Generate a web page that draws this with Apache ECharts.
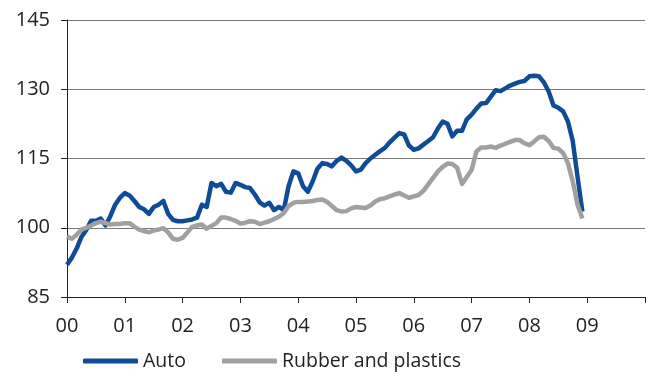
<!DOCTYPE html>
<html>
<head>
<meta charset="utf-8">
<script src="https://cdn.jsdelivr.net/npm/echarts@6/dist/echarts.min.js"></script>
<style>
  html, body { margin: 0; padding: 0; background: #fff; }
  #chart { width: 650px; height: 376px; }
</style>
</head>
<body>
<div id="chart"></div>
<script>
// monthly index, Jan 2000 .. Dec 2008
const auto = [
  92, 93.5, 95.5, 98, 99.5, 101.5, 101.5, 102, 100.5, 102.5, 105, 106.5,
  107.5, 107, 105.8, 104.5, 104, 103, 104.5, 105, 105.8, 103, 101.7, 101.4,
  101.4, 101.6, 101.8, 102.2, 105, 104.5, 109.7, 109, 109.5, 107.8, 107.6, 109.7,
  109.3, 108.8, 108.6, 107.2, 105.5, 104.8, 105.4, 103.8, 104.5, 103.8, 109, 112.2,
  111.8, 109, 107.8, 110, 112.8, 114, 113.8, 113.3, 114.5, 115.2, 114.5, 113.5,
  112.2, 112.6, 114, 115, 115.8, 116.6, 117.3, 118.5, 119.5, 120.5, 120.2, 117.8,
  116.9, 117.2, 118, 118.8, 119.6, 121.5, 123, 122.5, 119.8, 121, 121, 123.5,
  124.5, 125.8, 126.9, 127, 128.4, 129.8, 129.6, 130.2, 130.8, 131.2, 131.6, 131.8,
  132.8, 132.9, 132.8, 131.5, 129.5, 126.5, 126, 125.2, 123, 118.8, 111, 103.5
];
const rubber = [
  98.1, 97.6, 98.5, 99.6, 100, 100.5, 101, 101.3, 101, 100.7, 100.8, 100.8,
  101, 101, 100.2, 99.6, 99.3, 99, 99.4, 99.6, 99.9, 99, 97.6, 97.4,
  97.8, 99, 100.2, 100.5, 100.7, 99.8, 100.4, 101, 102.2, 102.2, 101.9, 101.5,
  100.9, 101.1, 101.4, 101.3, 100.8, 101.1, 101.4, 101.9, 102.4, 103.2, 104.7, 105.4,
  105.6, 105.6, 105.7, 105.8, 106, 106.1, 105.6, 104.7, 103.8, 103.5, 103.6, 104.2,
  104.5, 104.4, 104.3, 104.8, 105.7, 106.2, 106.4, 106.8, 107.2, 107.5, 107, 106.5,
  106.8, 107.1, 108, 109.4, 110.8, 112.2, 113.2, 113.9, 113.8, 113, 109.5, 111,
  112.5, 116.5, 117.4, 117.4, 117.6, 117.3, 117.8, 118.2, 118.6, 119, 119, 118.3,
  117.9, 118.7, 119.6, 119.7, 118.8, 117.3, 117.1, 116.2, 114, 110, 105, 102
];
const yearLabels = ['00', '01', '02', '03', '04', '05', '06', '07', '08', '09'];
const seriesNames = ['Auto', 'Rubber and plastics'];

const fontFamily = "'Open Sans', 'Noto Sans', sans-serif";
const chart = echarts.init(document.getElementById('chart'));

const toPoints = (arr) => arr.map((v, i) => [i, v]);

chart.setOption({
  animation: false,
  textStyle: { fontFamily: fontFamily },
  grid: { left: 67, right: 5, top: 20, bottom: 79 },
  legend: {
    left: 78,
    bottom: 0,
    icon: 'roundRect',
    itemWidth: 55,
    itemHeight: 5,
    itemGap: 36,
    textStyle: { fontSize: 19.5, color: '#222', fontFamily: fontFamily },
    data: seriesNames,
  },
  xAxis: {
    type: 'value',
    min: 0,
    max: 120,
    interval: 12,
    axisLine: { show: true, lineStyle: { color: '#222', width: 1 } },
    axisTick: { show: true, inside: false, length: 6, lineStyle: { color: '#222' } },
    splitLine: { show: false },
    axisLabel: {
      fontSize: 20,
      color: '#222',
      margin: 19,
      formatter: (v) => yearLabels[v / 12] || '',
    },
  },
  yAxis: {
    type: 'value',
    min: 85,
    max: 145,
    interval: 15,
    axisLine: { show: true, lineStyle: { color: '#222', width: 1 } },
    axisTick: { show: true, inside: false, length: 6, lineStyle: { color: '#222' } },
    splitLine: { show: true, lineStyle: { color: '#777', width: 1 } },
    axisLabel: { fontSize: 20, color: '#222', margin: 17 },
  },
  series: [
    {
      name: seriesNames[0],
      type: 'line',
      data: toPoints(auto),
      showSymbol: false,
      symbol: 'none',
      lineStyle: { color: '#0f4c97', width: 4.5, join: 'round', cap: 'butt' },
      itemStyle: { color: '#0f4c97' },
    },
    {
      name: seriesNames[1],
      type: 'line',
      data: toPoints(rubber),
      showSymbol: false,
      symbol: 'none',
      lineStyle: { color: '#a0a0a0', width: 4.5, join: 'round', cap: 'butt' },
      itemStyle: { color: '#a0a0a0' },
    },
  ],
});
</script>
</body>
</html>
